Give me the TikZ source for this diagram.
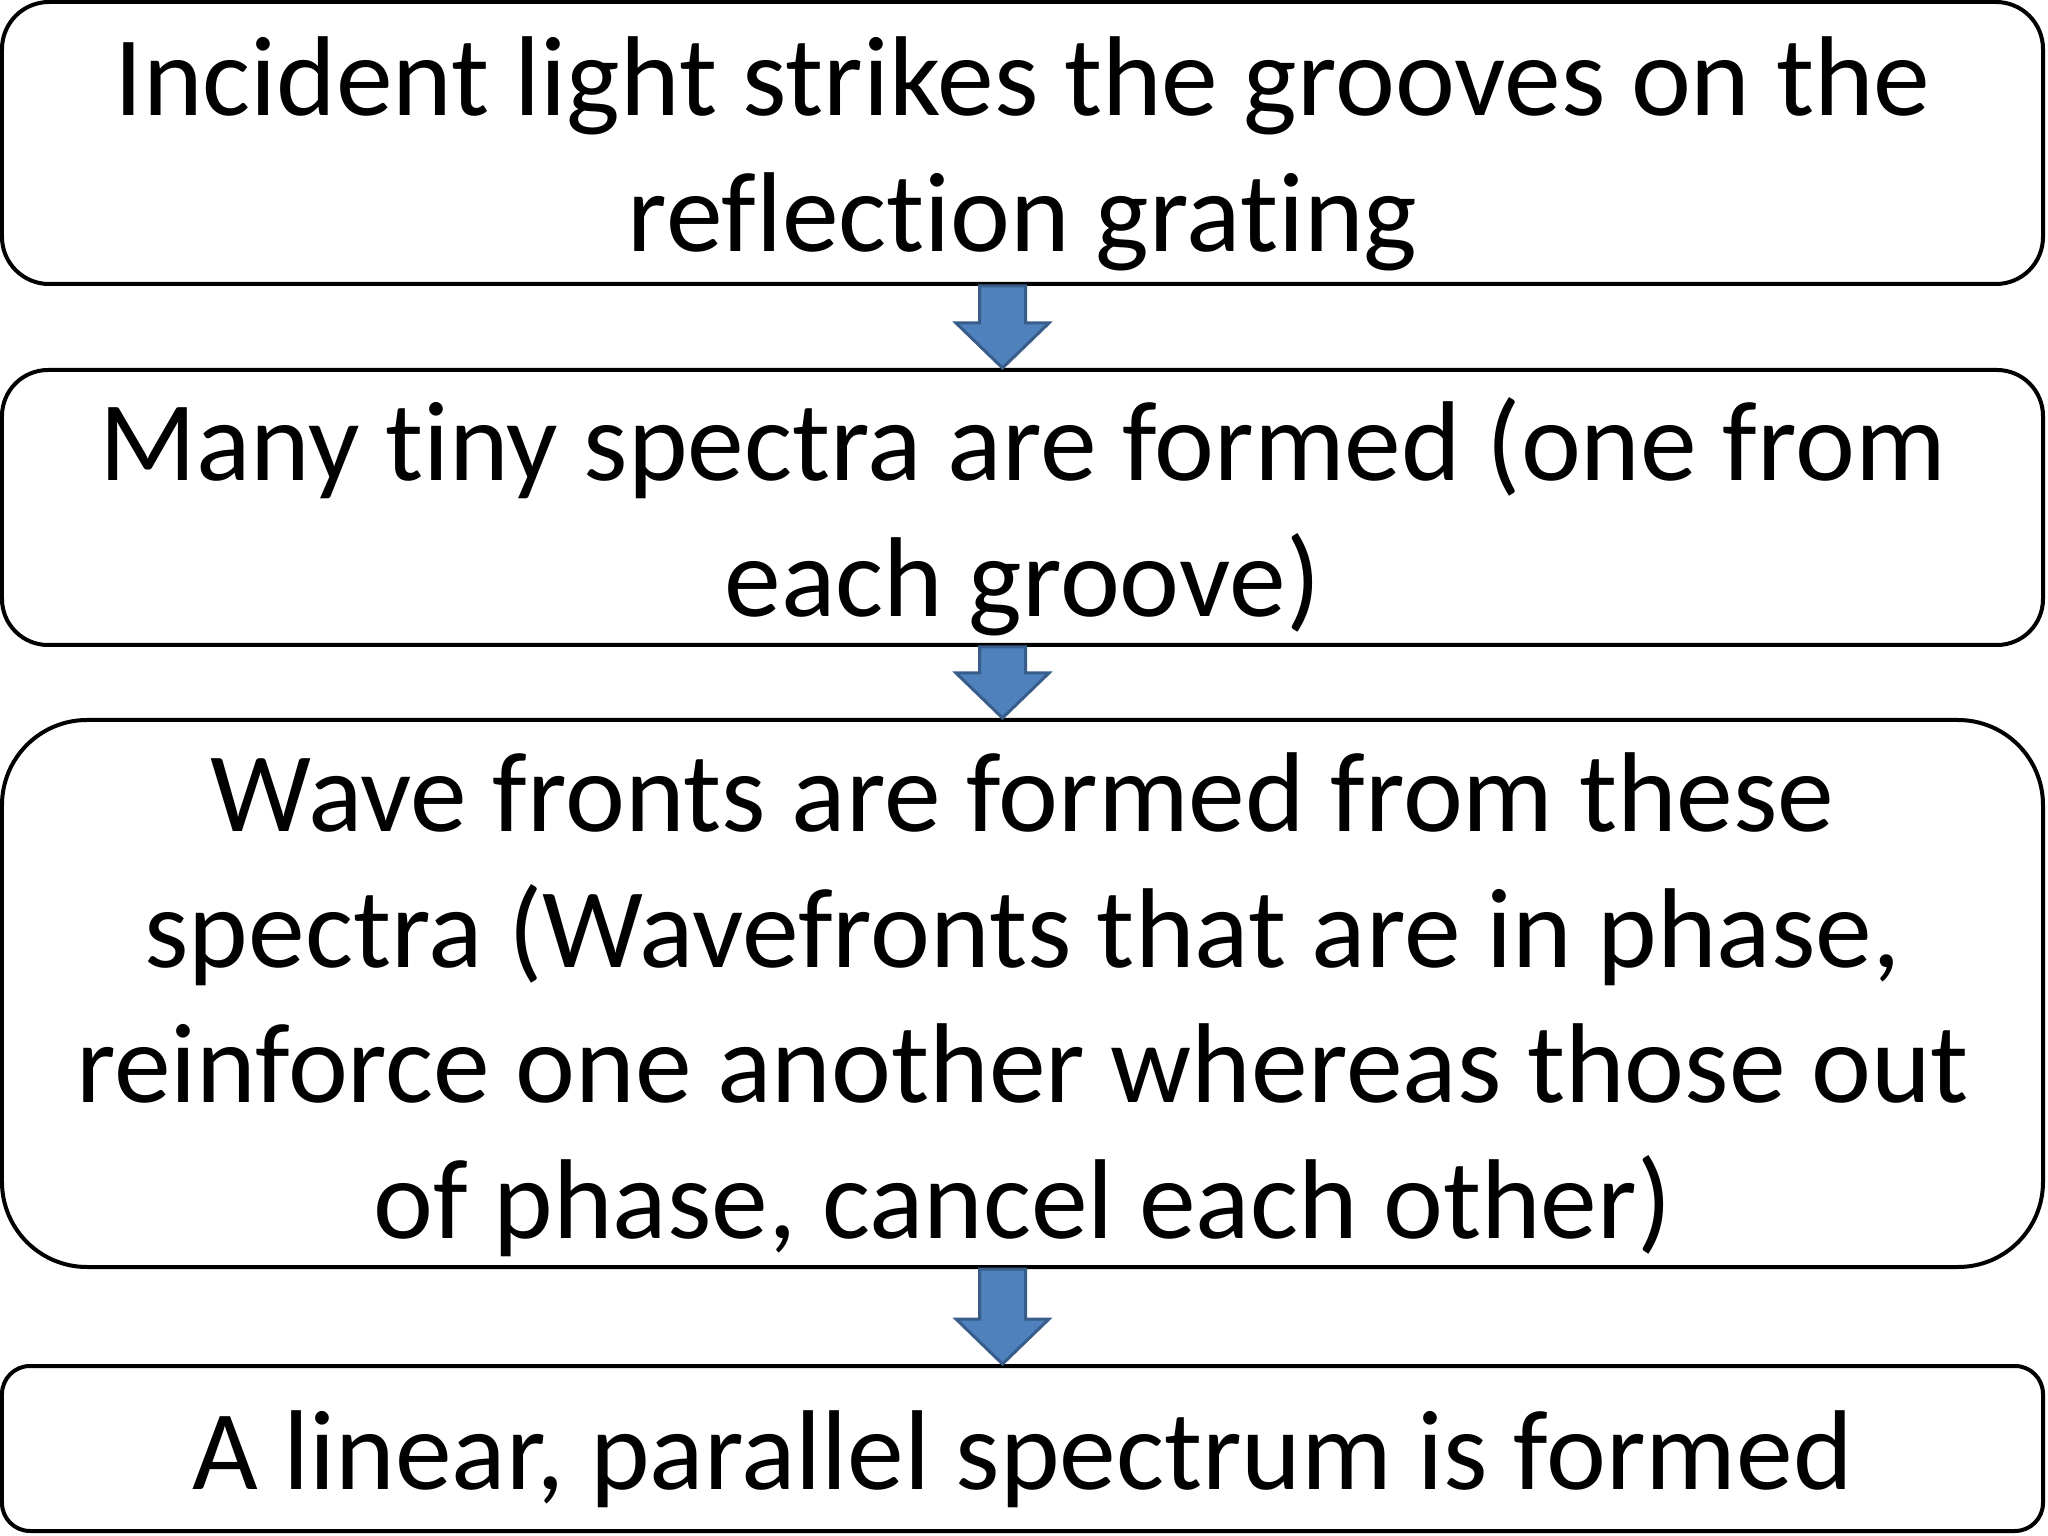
\documentclass[tikz,border=0pt]{standalone}
\usepackage{fontspec}
\setmainfont{Carlito}[Ligatures=NoCommon]
\usetikzlibrary{calc}

\definecolor{arrowfill}{HTML}{4F81BD}
\definecolor{arrowline}{HTML}{385D8A}

\newcommand\topstrut{\rule{0pt}{1.01cm}}

\tikzset{
    stepbox/.style={draw, line width=0.04cm, minimum width=20.41cm, align=center,
        font=\fontsize{32.3}{38.6}\selectfont, inner sep=0pt},
    fatarrow/.style={draw=arrowline, fill=arrowfill, line width=0.03cm, line join=miter}
}

% block arrow from the bottom of one box to the top of the next
\newcommand\flowarrow[2]{%
    \draw [fatarrow] ($(#1.south)+(-0.43,0)$) -- ($(#2.north)+(-0.43,0.45)$)
        -- ($(#2.north)+(-0.665,0.45)$) -- ($(#2.north)+(-0.2,0)$)
        -- ($(#2.north)+(0.265,0.45)$) -- ($(#2.north)+(0.03,0.45)$)
        -- ($(#1.south)+(0.03,0)$) -- cycle;
}

\begin{document}
\begin{tikzpicture}
    \useasboundingbox (0,0) rectangle (20.48,-15.36);

    % Draw boxes
    \node [stepbox, minimum height=2.82cm, rounded corners=0.47cm] (incident) at (10.225,-1.43)
        {\topstrut Incident light strikes the grooves on the\\reflection grating};
    \node [stepbox, minimum height=2.75cm, rounded corners=0.46cm] (spectra) at (10.225,-5.075)
        {\topstrut Many tiny spectra are formed (one from\\each groove)};
    \node [stepbox, minimum height=5.47cm, rounded corners=0.85cm] (wavefronts) at (10.225,-9.935)
        {\topstrut Wave fronts are formed from these\\spectra (Wavefronts that are in phase,\\reinforce one another whereas those out\\of phase, cancel each other)};
    \node [stepbox, minimum height=1.65cm, rounded corners=0.28cm] (linear) at (10.225,-14.485)
        {\topstrut A linear, parallel spectrum is formed};

    % Draw arrows
    \flowarrow{incident}{spectra}
    \flowarrow{spectra}{wavefronts}
    \flowarrow{wavefronts}{linear}
\end{tikzpicture}
\end{document}
